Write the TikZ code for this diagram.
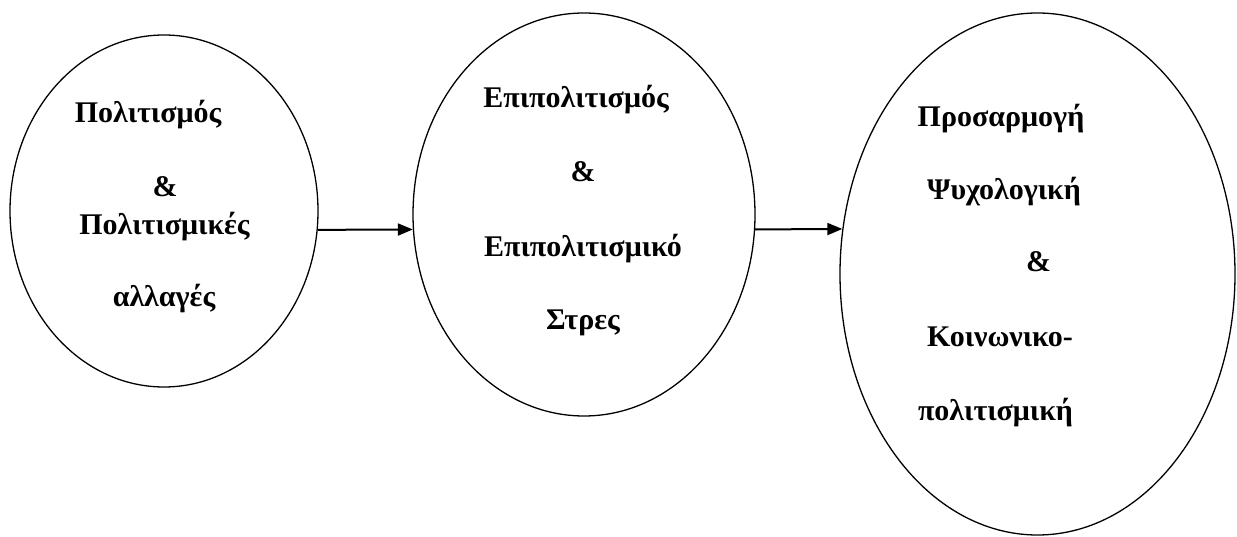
\documentclass[tikz,border=0pt]{standalone}
\usepackage{fontspec}
\setmainfont{Liberation Serif}
\usetikzlibrary{shapes.geometric}
\usetikzlibrary{arrows.meta}
\tikzset{
  stage-oval/.style={ellipse, draw, line width=1.3pt, inner sep=0pt},
  stage-text/.style={anchor=base, inner sep=0pt, font=\fontsize{30}{36}\selectfont\bfseries},
  stage-path/.style={line width=2pt, -{Triangle[length=15pt,width=12pt]}},
}

\begin{document}
\begin{tikzpicture}[x=1pt, y=1pt]
\useasboundingbox (0,0) rectangle (1237,536);
% the three stages
\node[stage-oval, minimum width=308pt, minimum height=352pt] (culture) at (164,325) {};
\node[stage-oval, minimum width=342pt, minimum height=403pt] (accult) at (584,321.5) {};
\node[stage-oval, minimum width=395pt, minimum height=522pt] (adapt) at (1037.5,262) {};
% text of the first stage
\node[stage-text] (culture-1) at (148,413) {Πολιτισμός};
\node[stage-text] (culture-2) at (165,339) {\&};
\node[stage-text] (culture-3) at (164.5,301) {Πολιτισμικές};
\node[stage-text] (culture-4) at (164,229) {αλλαγές};
% text of the second stage
\node[stage-text] (accult-1) at (576,428) {Επιπολιτισμός};
\node[stage-text] (accult-2) at (583,354) {\&};
\node[stage-text] (accult-3) at (583,279) {Επιπολιτισμικό};
\node[stage-text] (accult-4) at (583,206) {Στρες};
% text of the third stage
\node[stage-text] (adapt-1) at (1001,409) {Προσαρμογή};
\node[stage-text] (adapt-2) at (1004,336) {Ψυχολογική};
\node[stage-text] (adapt-3) at (1038.5,264) {\&};
\node[stage-text] (adapt-4) at (1000,189) {Κοινωνικο-};
\node[stage-text] (adapt-5) at (995.5,116) {πολιτισμική};
% arrows
\draw[stage-path] (culture.-7) -- (accult.185);
\draw[stage-path] (accult.-5) -- (adapt.167);
\end{tikzpicture}
\end{document}
